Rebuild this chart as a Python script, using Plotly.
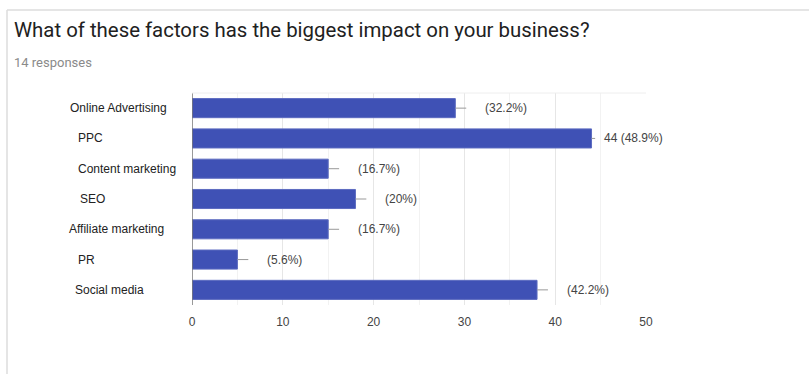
import plotly.graph_objects as go

# Survey answers (top to bottom)
categories = ["Online Advertising", "PPC", "Content marketing", "SEO",
              "Affiliate marketing", "PR", "Social media"]
counts = [29, 44, 15, 18, 15, 5, 38]
value_labels = ["(32.2%)", "44 (48.9%)", "(16.7%)", "(20%)",
                "(16.7%)", "(5.6%)", "(42.2%)"]
x_ticks = [0, 10, 20, 30, 40, 50]

title_text = "What of these factors has the biggest impact on your business?"
subtitle_text = "14 responses"

# left edge (px) of each category label
label_left_px = [68, 76, 76, 78, 67, 76, 73]

BAR = "#3f51b5"
W, H = 809, 374
L, R, T, B = 192, 163, 93, 69
PW, PH = W - L - R, H - T - B


def px_x(p):
    """Pixel column -> paper x."""
    return (p - L) / PW


def px_y(p):
    """Pixel row (from top) -> paper y."""
    return 1 + (T - p) / PH


fig = go.Figure()
fig.add_trace(go.Bar(
    y=categories, x=counts, orientation="h",
    marker=dict(color=BAR, line=dict(color="#5c6bc0", width=1)),
    hoverinfo="x+y",
))

# short leader lines and value labels
for cat, v, lab in zip(categories, counts, value_labels):
    shows_count = not lab.startswith("(")
    fig.add_shape(type="line", xref="x", yref="y",
                  x0=v, x1=v + (0.4 if shows_count else 1.2), y0=cat, y1=cat,
                  line=dict(color="#999999", width=1))
    fig.add_annotation(x=v, y=cat, xref="x", yref="y", text=lab,
                       showarrow=False, xanchor="left",
                       xshift=10 if shows_count else 28,
                       font=dict(family="Liberation Sans, Arial", size=12, color="#444444"))

# category labels on the left
for cat, lx in zip(categories, label_left_px):
    fig.add_annotation(x=px_x(lx), xref="paper", y=cat, yref="y", text=cat,
                       showarrow=False, xanchor="left",
                       font=dict(family="Liberation Sans, Arial", size=12, color="#222222"))

# card outline
fig.add_shape(type="line", xref="paper", yref="paper",
              x0=px_x(7), x1=px_x(W), y0=px_y(10), y1=px_y(10),
              line=dict(color="#dddddd", width=1.5))
fig.add_shape(type="line", xref="paper", yref="paper",
              x0=px_x(7), x1=px_x(7), y0=px_y(10), y1=px_y(H),
              line=dict(color="#dddddd", width=1.5))

fig.add_annotation(x=px_x(12), y=px_y(30), xref="paper", yref="paper",
                   text=title_text, showarrow=False,
                   xanchor="left", yanchor="middle",
                   font=dict(family="Roboto", size=20.4, color="#212121"))
fig.add_annotation(x=px_x(12), y=px_y(62), xref="paper", yref="paper",
                   text=subtitle_text, showarrow=False,
                   xanchor="left", yanchor="middle",
                   font=dict(family="Roboto", size=13, color="#8a8a8a"))

fig.update_layout(
    width=W, height=H,
    margin=dict(l=L, r=R, t=T, b=B, pad=0),
    paper_bgcolor="white", plot_bgcolor="white",
    bargap=0.37, showlegend=False,
    xaxis=dict(range=[0, 50], tickvals=x_ticks, showgrid=True,
               gridcolor="#e6e6e6", gridwidth=1,
               minor=dict(dtick=5, showgrid=True, gridcolor="#f2f2f2"),
               zeroline=False, showline=False, ticks="",
               tickfont=dict(family="Liberation Sans, Arial", size=12, color="#444444"),
               ticklabelstandoff=8, fixedrange=True),
    yaxis=dict(autorange="reversed", showticklabels=False, showgrid=False,
               zeroline=False, showline=False, ticks="", fixedrange=True),
)
# vertical baseline at zero
fig.add_shape(type="line", xref="x", yref="paper", x0=0, x1=0, y0=0, y1=1,
              line=dict(color="#777777", width=1.5))
# light frame on top of plot area
fig.add_shape(type="line", xref="paper", yref="paper", x0=0, x1=1, y0=1, y1=1,
              line=dict(color="#eeeeee", width=1))

fig.write_html("out.html")
